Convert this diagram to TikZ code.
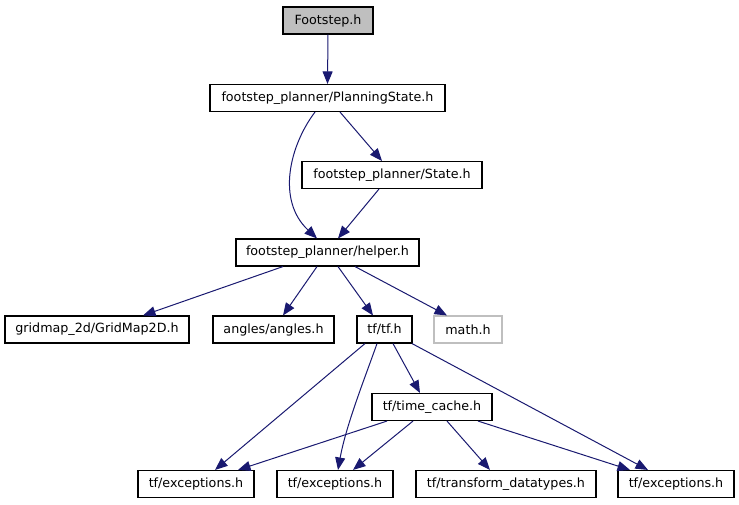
\documentclass[tikz,border=0pt]{standalone}
\usepackage{fontspec}
\setmainfont{DejaVu Sans}
\usetikzlibrary{arrows.meta}
\definecolor{edgeblue}{HTML}{191970}
\definecolor{boxgray}{HTML}{BFBFBF}
\begin{document}
\begin{tikzpicture}[x=1pt,y=-1pt,
  filebox/.style={draw=black,line width=1.1pt,minimum height=27pt,inner sep=0pt,font=\fontsize{12.7}{14}\selectfont,fill=white},
  edge/.style={draw=edgeblue,line width=1pt,-{Triangle[length=12.5pt,width=10pt]}}]
\useasboundingbox (0,0) rectangle (739,504);
\node[filebox,fill=boxgray,minimum width=90pt] (foot) at (328,20.5) {Footstep.h};
\node[filebox,minimum width=235pt] (ps) at (327.5,98) {footstep\_planner/PlanningState.h};
\node[filebox,minimum width=180pt] (state) at (392,175) {footstep\_planner/State.h};
\node[filebox,minimum width=183pt] (helper) at (327.5,252.5) {footstep\_planner/helper.h};
\node[filebox,minimum width=184pt] (grid) at (97,329.5) {gridmap\_2d/GridMap2D.h};
\node[filebox,minimum width=121pt] (angles) at (273.5,329.5) {angles/angles.h};
\node[filebox,minimum width=55pt] (tf) at (384.5,329.5) {tf/tf.h};
\node[filebox,draw=boxgray,minimum width=68pt] (math) at (468,329.5) {math.h};
\node[filebox,minimum width=120pt] (time) at (432,407) {tf/time\_cache.h};
\node[filebox,minimum width=116pt] (exa) at (196,484) {tf/exceptions.h};
\node[filebox,minimum width=116pt] (exb) at (335,484) {tf/exceptions.h};
\node[filebox,minimum width=180pt] (trans) at (506,484) {tf/transform\_datatypes.h};
\node[filebox,minimum width=116pt] (exc) at (676,484) {tf/exceptions.h};

\draw[edge] (foot.south) -- (ps.north);
\draw[edge] ([xshift=-12.5pt]ps.south) .. controls (290,145) and (276,200) .. ([xshift=-10.5pt]helper.north);
\draw[edge] ([xshift=12.5pt]ps.south) -- ([xshift=-10pt]state.north);
\draw[edge] ([xshift=-13pt]state.south) -- ([xshift=10.5pt]helper.north);
\draw[edge] ([xshift=-44.5pt]helper.south) -- ([xshift=46pt]grid.north);
\draw[edge] ([xshift=-10.5pt]helper.south) -- ([xshift=9.5pt]angles.north);
\draw[edge] ([xshift=10.5pt]helper.south) -- ([xshift=-11.5pt]tf.north);
\draw[edge] ([xshift=27.5pt]helper.south) -- ([xshift=-21pt]math.north);
\draw[edge] ([xshift=-19.5pt]tf.south) -- ([xshift=19pt]exa.north);
\draw[edge] ([xshift=-7.5pt]tf.south) .. controls (366,375) and (346,425) .. ([xshift=3pt]exb.north);
\draw[edge] ([xshift=8.5pt]tf.south) -- ([xshift=-12pt]time.north);
\draw[edge] ([xshift=27.5pt]tf.south) -- ([xshift=-28pt]exc.north);
\draw[edge] ([xshift=-45pt]time.south) -- ([xshift=42pt]exa.north);
\draw[edge] ([xshift=-19pt]time.south) -- ([xshift=18pt]exb.north);
\draw[edge] ([xshift=15pt]time.south) -- ([xshift=-16pt]trans.north);
\draw[edge] ([xshift=46pt]time.south) -- ([xshift=-46pt]exc.north);
\end{tikzpicture}
\end{document}
